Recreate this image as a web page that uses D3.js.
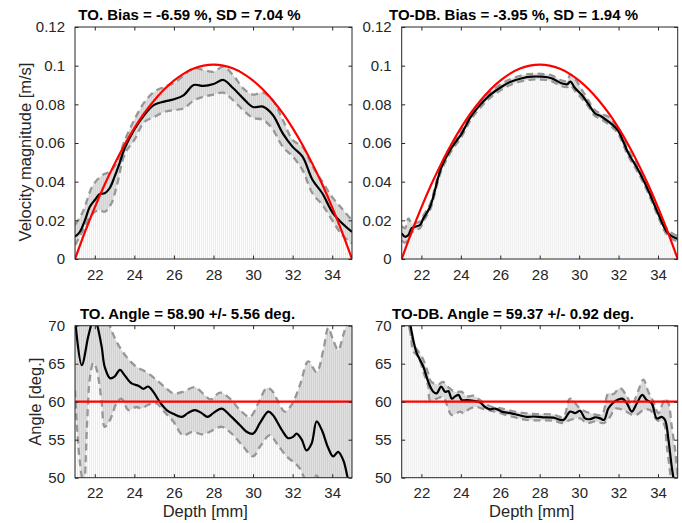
<!DOCTYPE html>
<html>
<head>
<meta charset="utf-8">
<script src="https://cdn.jsdelivr.net/npm/d3@7"></script>
<style>
  body { margin: 0; background: #fff; }
  svg { display: block; }
</style>
</head>
<body>
<svg id="fig" width="682" height="523"></svg>
<script>
// ---- data ([depth mm, value]) ----
var xTicks = [22, 24, 26, 28, 30, 32, 34];
var velTicks = [0, 0.02, 0.04, 0.06, 0.08, 0.1, 0.12];
var angTicks = [50, 55, 60, 65, 70];

// theoretical parabolic profile
var refVel = [[21,0],[21.5,0.0139],[22,0.0267],[22.5,0.0385],[23,0.0492],[23.5,0.0590],[24,0.0677],
  [24.5,0.0754],[25,0.0820],[25.5,0.0877],[26,0.0923],[26.5,0.0959],[27,0.0985],[27.5,0.1000],
  [28,0.1005],[28.5,0.1000],[29,0.0985],[29.5,0.0959],[30,0.0923],[30.5,0.0877],[31,0.0820],
  [31.5,0.0754],[32,0.0677],[32.5,0.0590],[33,0.0492],[33.5,0.0385],[34,0.0267],[34.5,0.0139],[35,0]];
var refAng = [[21,60],[35,60]];

// TO velocity
var toVelMean = [[21,0.0115],[21.25,0.0141],[21.5,0.020],[21.75,0.027],[22,0.0305],[22.25,0.0336],
  [22.5,0.034],[22.75,0.0366],[23,0.0426],[23.25,0.0495],[23.5,0.057],[24,0.067],[24.5,0.0745],
  [25,0.0797],[25.5,0.0814],[26,0.0826],[26.5,0.0848],[27,0.0900],[27.5,0.0895],[28,0.0905],
  [28.5,0.0926],[29,0.0883],[29.5,0.0831],[30,0.0786],[30.5,0.0788],[31,0.0745],[31.5,0.0650],
  [32,0.0580],[32.5,0.0530],[33,0.0410],[33.5,0.0340],[34,0.0243],[34.5,0.0185],[35,0.0140]];
var toVelUpper = [[21,0.0176],[21.4,0.0245],[21.9,0.038],[22.4,0.0435],[22.75,0.045],[23.1,0.0496],
  [23.5,0.061],[24,0.072],[24.5,0.081],[25,0.0865],[25.5,0.089],[26,0.091],[26.5,0.095],[27,0.0987],
  [27.5,0.0978],[28,0.0968],[28.5,0.0995],[29,0.095],[29.5,0.0883],[30,0.085],[30.5,0.086],
  [31,0.082],[31.5,0.072],[32,0.0616],[32.5,0.058],[33,0.048],[33.5,0.040],[34,0.032],[34.5,0.026],[35,0.020]];
var toVelLower = [[21,0.0072],[21.42,0.015],[21.76,0.022],[22.18,0.0253],[22.52,0.0245],[22.85,0.029],
  [23.1,0.0374],[23.53,0.0547],[24,0.0616],[24.5,0.0708],[25,0.0735],[25.5,0.076],[26,0.077],
  [26.5,0.078],[27,0.082],[27.5,0.084],[28,0.085],[28.5,0.086],[29,0.082],[29.5,0.077],[30,0.073],
  [30.5,0.072],[31,0.067],[31.5,0.058],[32,0.053],[32.5,0.046],[33,0.034],[33.5,0.028],[34,0.020],
  [34.5,0.0124],[35,0.008]];

// TO-DB velocity
var dbVelMean = [[21,0.0133],[21.17,0.0115],[21.34,0.0124],[21.5,0.0159],[21.68,0.0167],[21.93,0.0176],
  [22.1,0.021],[22.44,0.027],[23,0.047],[23.5,0.057],[24.05,0.065],[24.5,0.0735],[25.05,0.0805],
  [25.5,0.085],[26.07,0.0891],[26.5,0.0915],[27.1,0.0935],[27.6,0.0943],[28.1,0.0943],[28.6,0.0935],
  [29.1,0.0909],[29.4,0.0904],[29.55,0.0918],[29.8,0.0883],[30.14,0.0848],[30.5,0.0797],[30.8,0.0754],
  [31.15,0.0736],[31.5,0.071],[31.8,0.0684],[32,0.066],[32.5,0.0547],[33,0.046],[33.5,0.0357],
  [34,0.0237],[34.5,0.0134],[35,0.0103]];
var dbVelUpper = [[21,0.0170],[21.17,0.0160],[21.34,0.0210],[21.5,0.0185],[21.68,0.0185],[21.93,0.0195],
  [22.1,0.0225],[22.44,0.0285],[23,0.0485],[23.5,0.0585],[24.05,0.0665],[24.5,0.0750],[25.05,0.0820],
  [25.5,0.0865],[26.07,0.0906],[26.5,0.0930],[27.1,0.0950],[27.6,0.0958],[28.1,0.0958],[28.6,0.0950],
  [29.1,0.0924],[29.4,0.0920],[29.55,0.0955],[29.8,0.0930],[30.14,0.0875],[30.5,0.0815],[30.8,0.0770],
  [31.15,0.0750],[31.5,0.0735],[31.8,0.0700],[32,0.0675],[32.5,0.0562],[33,0.0475],[33.5,0.0372],
  [34,0.0252],[34.5,0.0150],[35,0.0118]];
var dbVelLower = [[21,0.0095],[21.17,0.0085],[21.34,0.0100],[21.5,0.0135],[21.68,0.0150],[21.93,0.0160],
  [22.1,0.0195],[22.44,0.0255],[23,0.0455],[23.5,0.0555],[24.05,0.0635],[24.5,0.0720],[25.05,0.0790],
  [25.5,0.0835],[26.07,0.0876],[26.5,0.0900],[27.1,0.0920],[27.6,0.0928],[28.1,0.0928],[28.6,0.0920],
  [29.1,0.0894],[29.4,0.0889],[29.55,0.0900],[29.8,0.0868],[30.14,0.0830],[30.5,0.0785],[30.8,0.0740],
  [31.15,0.0722],[31.5,0.0696],[31.8,0.0670],[32,0.0645],[32.5,0.0532],[33,0.0445],[33.5,0.0342],
  [34,0.0222],[34.5,0.0120],[35,0.0090]];

// TO angle
var toAngMean = [[21,71],[21.34,64.8],[21.67,68.6],[21.84,70.3],[21.97,71.2],[22.1,70.3],[22.35,67.2],
  [22.5,64.6],[22.77,63.1],[23,63.3],[23.27,64.2],[23.5,63.5],[23.86,62.4],[24.2,62.1],[24.45,61.7],
  [24.7,62.0],[24.96,61.3],[25.3,59.9],[25.63,58.9],[25.97,58.4],[26.4,58.0],[26.7,58.5],[27.06,58.9],
  [27.4,58.5],[27.7,58.0],[27.99,58.5],[28.41,59.1],[28.83,58.2],[29.34,56.9],[29.67,56.05],[30,55.8],
  [30.35,57.2],[30.77,58.7],[31,58.25],[31.45,56.3],[31.78,55.2],[32.03,55.4],[32.2,55.8],[32.46,55.0],
  [32.7,53.6],[32.96,54.5],[33.21,57.4],[33.47,56.3],[33.8,53.9],[34.05,52.8],[34.3,53.4],[34.56,52.3],
  [34.73,50.6],[34.9,48.5],[35,47.5]];
var toAngUpper = [[21,76],[21.5,77],[22,76],[22.5,72],[22.77,69.9],[23.1,67.9],[23.6,65.9],[24.1,64.6],
  [24.6,63.9],[25.1,62.9],[25.5,62.0],[25.97,61.1],[26.45,61.3],[27.06,61.9],[27.5,61.0],[27.85,60.3],
  [28.33,61.2],[28.83,60.4],[29.34,58.9],[29.84,58.0],[30.26,59.8],[30.69,61.8],[30.94,61.5],[31.27,60.0],
  [31.6,58.7],[31.95,59.6],[32.37,62.2],[32.79,65.3],[33.21,63.9],[33.55,66.8],[33.8,69.7],[34.05,68.1],
  [34.3,66.8],[34.56,68.8],[34.73,70.3],[35,73]];
var toAngLower = [[21,61.5],[21.17,54.1],[21.34,50.1],[21.45,48.5],[21.6,56.5],[21.76,63.3],[21.93,65.1],
  [22.1,64.2],[22.35,59.8],[22.5,56.7],[22.77,57.6],[23.1,59.8],[23.35,60.4],[23.7,58.9],[24.1,59.3],
  [24.36,59.1],[24.7,59.6],[25.1,59.8],[25.5,58.7],[25.97,57.4],[26.45,55.6],[26.97,56.05],[27.4,55.7],
  [27.82,56.05],[28.41,56.7],[28.92,55.8],[29.5,54.1],[30,52.8],[30.35,54.1],[30.85,55.6],[31.2,54.5],
  [31.7,52.8],[32.12,51.9],[32.37,51.2],[32.7,49.5],[33,49.2],[33.2,50.3],[33.5,48.8],[34,47.0],[35,45.0]];

// TO-DB angle
var dbAngMean = [[21,75],[21.25,72],[21.42,70.3],[21.59,68.1],[21.76,66.4],[21.93,65.5],[22.1,64.6],
  [22.35,62.6],[22.6,61.3],[22.78,61.1],[23,62.0],[23.2,61.3],[23.37,61.4],[23.54,60.4],[23.71,60.7],
  [23.88,60.9],[24.05,60.2],[24.3,60.2],[24.64,60.1],[24.98,59.9],[25.23,59.3],[25.48,59.0],[25.74,59.1],
  [26.08,58.7],[26.5,58.5],[26.92,58.25],[27.35,58.0],[27.68,58.05],[28.18,57.95],[28.69,57.9],[29.2,57.6],
  [29.54,58.7],[29.8,58.5],[30.05,58.8],[30.3,57.8],[30.56,57.7],[30.81,57.95],[31.07,57.8],[31.26,57.6],
  [31.48,59.1],[31.74,59.9],[31.99,60.3],[32.2,60.4],[32.42,59.8],[32.67,58.7],[32.93,59.8],[33.2,60.9],
  [33.43,60.2],[33.68,59.8],[33.94,57.8],[34.19,58.0],[34.36,57.6],[34.53,55.0],[34.7,51.4],[34.78,50.0],[35,45]];
var dbAngUpper = [[21,76],[21.34,70.3],[21.68,67.2],[21.85,66.6],[22.1,65.5],[22.35,63.7],[22.5,62.6],
  [22.86,62.3],[23.1,62.6],[23.37,61.9],[23.7,61.3],[24.05,61.3],[24.3,60.7],[24.64,60.8],[24.98,60.2],
  [25.48,59.4],[26.08,59.1],[26.92,58.6],[27.68,58.4],[28.69,58.3],[29.2,58.0],[29.54,60.4],[30.05,59.1],
  [30.56,58.5],[31.15,58.3],[31.48,61.1],[31.74,61.0],[32.07,61.8],[32.42,60.7],[32.67,59.6],[33.01,61.5],
  [33.26,62.9],[33.51,61.3],[33.77,60.0],[34.02,58.5],[34.36,60.4],[34.53,59.8],[34.7,56.7],[34.87,53.6],[35,50.1]];
var dbAngLower = [[21,74],[21.42,69.4],[21.6,66.6],[21.85,65.9],[22.1,63.9],[22.35,62.0],[22.44,60.2],
  [22.78,60.4],[23.1,60.6],[23.54,58.25],[23.96,58.7],[24.13,58.5],[24.47,59.1],[24.8,59.3],[25.2,59.0],
  [25.74,58.7],[26.5,58.1],[27.35,57.6],[28.18,57.55],[28.69,57.5],[29.2,57.2],[29.54,57.6],[30.05,57.8],
  [30.38,57.2],[30.81,57.4],[31.26,57.2],[31.57,58.0],[31.82,59.1],[32.24,58.9],[32.67,58.3],[32.93,58.3],
  [33.26,58.9],[33.6,58.9],[33.94,57.6],[34.28,57.2],[34.45,54.1],[34.62,50.6],[34.8,46],[35,44]];

var titles = [
  "TO. Bias = -6.59 %, SD = 7.04 %",
  "TO-DB. Bias = -3.95 %, SD = 1.94 %",
  "TO. Angle = 58.90 +/- 5.56 deg.",
  "TO-DB. Angle = 59.37 +/- 0.92 deg."
];

// ---- layout ----
var svg = d3.select("#fig");
var font = "'Liberation Sans', Arial, Helvetica, sans-serif";
var axisColor = "#262626";

var defs = svg.append("defs");
var stems = defs.append("pattern").attr("id", "stems")
  .attr("patternUnits", "userSpaceOnUse").attr("width", 2).attr("height", 10);
stems.append("rect").attr("width", 2).attr("height", 10).attr("fill", "#fff");
stems.append("rect").attr("width", 1).attr("height", 10).attr("fill", "#ebebeb");
var band = defs.append("pattern").attr("id", "band")
  .attr("patternUnits", "userSpaceOnUse").attr("width", 2).attr("height", 10);
band.append("rect").attr("width", 2).attr("height", 10).attr("fill", "#e0e0e0");
band.append("rect").attr("width", 1).attr("height", 10).attr("fill", "#d2d2d2");

var panels = [
  {left: 75, top: 27, w: 277, h: 232, dom: [0, 0.12], ticks: velTicks, fmt: d3.format("~g"),
   mean: toVelMean, up: toVelUpper, lo: toVelLower, ref: refVel, title: titles[0], tx: 189.5, ty: 19.5,
   ylab: "Velocity magnitude [m/s]", ylx: 31, yly: 152},
  {left: 401.7, top: 27, w: 276, h: 232, dom: [0, 0.12], ticks: velTicks, fmt: d3.format("~g"),
   mean: dbVelMean, up: dbVelUpper, lo: dbVelLower, ref: refVel, title: titles[1], tx: 513.5, ty: 19.5},
  {left: 75, top: 325.7, w: 277, h: 152, dom: [50, 70], ticks: angTicks, fmt: d3.format("d"),
   mean: toAngMean, up: toAngUpper, lo: toAngLower, ref: refAng, title: titles[2], tx: 187.5, ty: 319,
   ylab: "Angle [deg.]", ylx: 41, yly: 401.7, xlab: "Depth [mm]", xlx: 205.3},
  {left: 401.7, top: 325.7, w: 276, h: 152, dom: [50, 70], ticks: angTicks, fmt: d3.format("d"),
   mean: dbAngMean, up: dbAngUpper, lo: dbAngLower, ref: refAng, title: titles[3], tx: 513, ty: 319,
   xlab: "Depth [mm]", xlx: 531.7}
];

panels.forEach(function(p, i) {
  var x = d3.scaleLinear().domain([21, 35]).range([0, p.w]);
  var y = d3.scaleLinear().domain(p.dom).range([p.h, 0]);

  var g = svg.append("g").attr("transform", "translate(" + p.left + "," + p.top + ")");

  defs.append("clipPath").attr("id", "clip" + i)
    .append("rect").attr("width", p.w).attr("height", p.h);

  var plot = g.append("g").attr("clip-path", "url(#clip" + i + ")");

  var line = d3.line()
    .x(function(d) { return x(d[0]); })
    .y(function(d) { return y(d[1]); })
    .curve(d3.curveCatmullRom.alpha(0.5));

  // faint stems under the lower bound
  plot.append("path")
    .attr("d", line(p.lo) + "L" + x(35) + "," + (p.h + 5) + "L" + x(21) + "," + (p.h + 5) + "Z")
    .attr("fill", "url(#stems)");

  // band between lower and upper
  var lowRev = p.lo.slice().reverse();
  plot.append("path")
    .attr("d", line(p.up) + "L" + line(lowRev).slice(1) + "Z")
    .attr("fill", "url(#band)");

  [p.up, p.lo].forEach(function(s) {
    plot.append("path")
      .attr("d", line(s))
      .attr("fill", "none")
      .attr("stroke", "#979797")
      .attr("stroke-width", 2.3)
      .attr("stroke-dasharray", "7,4.5");
  });

  plot.append("path")
    .attr("d", line(p.mean))
    .attr("fill", "none")
    .attr("stroke", "#000")
    .attr("stroke-width", 2.2);

  plot.append("path")
    .attr("d", line.curve(d3.curveNatural)(p.ref))
    .attr("fill", "none")
    .attr("stroke", "#ff0000")
    .attr("stroke-width", 2.2);

  // axes
  var xb = g.append("g").attr("transform", "translate(0," + p.h + ")")
    .call(d3.axisBottom(x).tickValues(xTicks).tickSizeInner(-3.5).tickSizeOuter(0).tickPadding(10));
  var xt = g.append("g")
    .call(d3.axisTop(x).tickValues(xTicks).tickSizeInner(-3.5).tickSizeOuter(0).tickFormat(""));
  var yl = g.append("g")
    .call(d3.axisLeft(y).tickValues(p.ticks).tickSizeInner(-3.5).tickSizeOuter(0).tickPadding(10).tickFormat(p.fmt));
  var yr = g.append("g").attr("transform", "translate(" + p.w + ",0)")
    .call(d3.axisRight(y).tickValues(p.ticks).tickSizeInner(-3.5).tickSizeOuter(0).tickFormat(""));

  [xb, xt, yl, yr].forEach(function(a) {
    a.select(".domain").remove();
    a.selectAll("line").attr("stroke", axisColor);
    a.selectAll("text").attr("fill", axisColor)
      .style("font-family", font).style("font-size", "15px");
  });

  g.append("rect")
    .attr("width", p.w).attr("height", p.h)
    .attr("fill", "none").attr("stroke", axisColor).attr("stroke-width", 1);

  svg.append("text")
    .attr("x", p.tx).attr("y", p.ty)
    .attr("text-anchor", "middle")
    .style("font-family", font).style("font-size", "15px").style("font-weight", "bold")
    .text(p.title);

  if (p.ylab) {
    svg.append("text")
      .attr("transform", "translate(" + p.ylx + "," + p.yly + ") rotate(-90)")
      .attr("text-anchor", "middle")
      .attr("fill", axisColor)
      .style("font-family", font).style("font-size", "16.5px")
      .text(p.ylab);
  }
  if (p.xlab) {
    svg.append("text")
      .attr("x", p.xlx).attr("y", 517)
      .attr("text-anchor", "middle")
      .attr("fill", axisColor)
      .style("font-family", font).style("font-size", "16.5px")
      .text(p.xlab);
  }
});
</script>
</body>
</html>
